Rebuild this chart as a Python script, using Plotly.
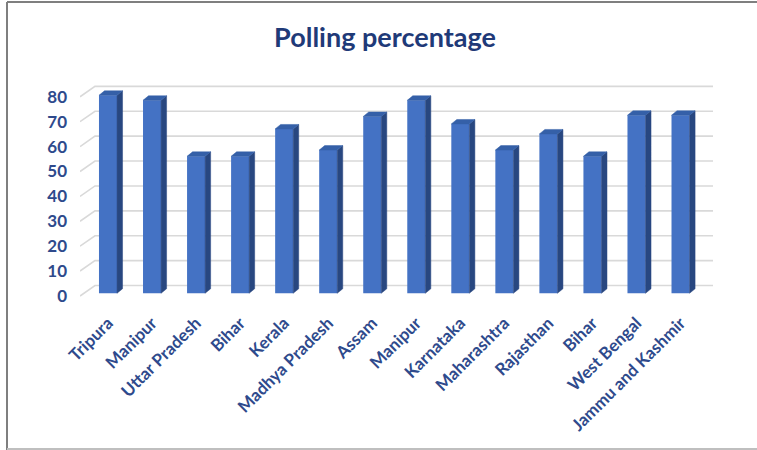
import plotly.graph_objects as go

# ---- data ----
states = ["Tripura", "Manipur", "Uttar Pradesh", "Bihar", "Kerala", "Madhya Pradesh",
          "Assam", "Manipur", "Karnataka", "Maharashtra", "Rajasthan", "Bihar",
          "West Bengal", "Jammu and Kashmir"]
polling = [79.5, 77.5, 55.0, 55.0, 66.0, 57.5, 71.0, 77.5, 68.0, 57.5, 64.0, 55.0, 71.5, 71.5]
y_ticks = [0, 10, 20, 30, 40, 50, 60, 70, 80]
title_text = "Polling percentage"

# ---- style / geometry (in axis units) ----
W, H = 757, 450
X_RANGE = [-0.636, 13.737]
Y_RANGE = [-1.606, 86.75]
BAR_W = 0.41          # front face width
SIDE_DX = 0.125       # depth of 3D side
SIDE_DY = 1.8
BASE = 1.1            # bars sit slightly behind the front floor edge
BACK_DX = 0.34        # back wall offset
BACK_DY = 4.2
FRONT = "#4472C4"
SIDE = "#284780"
TOP = "#3560A8"
GRID = "#D9D9D9"
TXT = "#2E4A8C"
TITLE = "#1F3A78"

xs = list(range(len(states)))
fig = go.Figure()

# back-wall gridlines plus diagonal floor/wall connectors (drawn beneath the bars)
grid_shapes = []
for v in y_ticks:
    path = "M {a},{b} L {c},{d} L {e},{d}".format(a=X_RANGE[0], b=v, c=X_RANGE[0] + BACK_DX,
                                                  d=v + BACK_DY, e=X_RANGE[1])
    grid_shapes.append(dict(type="path", xref="x", yref="y", path=path, layer="below",
                            line=dict(color=GRID, width=1.6)))

# front faces
fig.add_trace(go.Bar(x=xs, y=polling, base=BASE, width=BAR_W, marker=dict(color=FRONT, line=dict(width=0)),
                     showlegend=False, hovertext=states))

# side faces
sx, sy = [], []
for x, v in zip(xs, polling):
    r = x + BAR_W / 2
    sx += [r, r + SIDE_DX, r + SIDE_DX, r, r, None]
    sy += [BASE, BASE + SIDE_DY, BASE + v + SIDE_DY, BASE + v, BASE, None]
fig.add_trace(go.Scatter(x=sx, y=sy, mode="lines", fill="toself", fillcolor=SIDE,
                         line=dict(color=SIDE, width=0.5), hoverinfo="skip", showlegend=False))

# top faces
tx, ty = [], []
for x, v in zip(xs, polling):
    l, r = x - BAR_W / 2, x + BAR_W / 2
    top = BASE + v
    tx += [l, l + SIDE_DX, r + SIDE_DX, r, l, None]
    ty += [top, top + SIDE_DY, top + SIDE_DY, top, top, None]
fig.add_trace(go.Scatter(x=tx, y=ty, mode="lines", fill="toself", fillcolor=TOP,
                         line=dict(color=TOP, width=0.5), hoverinfo="skip", showlegend=False))

border = [
    dict(type="line", xref="paper", yref="paper", x0=-73 / 633, x1=-73 / 633, y0=-150 / 220, y1=1 + 78 / 220,
         line=dict(color="#7F7F7F", width=2)),
    dict(type="line", xref="paper", yref="paper", x0=-73 / 633, x1=1 + 44 / 633, y0=1 + 78 / 220, y1=1 + 78 / 220,
         line=dict(color="#7F7F7F", width=2)),
    dict(type="line", xref="paper", yref="paper", x0=-73 / 633, x1=1 + 44 / 633, y0=-149 / 220, y1=-149 / 220,
         line=dict(color="#BFBFBF", width=2)),
]

fig.update_layout(
    width=W, height=H,
    margin=dict(l=80, r=44, t=80, b=150),
    paper_bgcolor="white", plot_bgcolor="white",
    title=dict(text="<b>" + title_text + "</b>", x=385 / W, xanchor="center", y=1 - 38 / H, yanchor="middle",
               font=dict(family="Lato", size=27, color=TITLE)),
    xaxis=dict(range=X_RANGE, tickmode="array", tickvals=xs, ticktext=states, tickangle=-45,
               showgrid=False, zeroline=False, showline=False, ticks="", ticklabelstandoff=9,
               tickfont=dict(family="Lato", size=17, color=TXT, weight="bold")),
    yaxis=dict(range=Y_RANGE, tickmode="array", tickvals=y_ticks, showgrid=False, zeroline=False,
               showline=False, ticks="", ticklabelstandoff=12,
               tickfont=dict(family="Lato", size=17, color=TXT, weight="bold")),
    shapes=grid_shapes + border,
)
fig.write_html("out.html")
